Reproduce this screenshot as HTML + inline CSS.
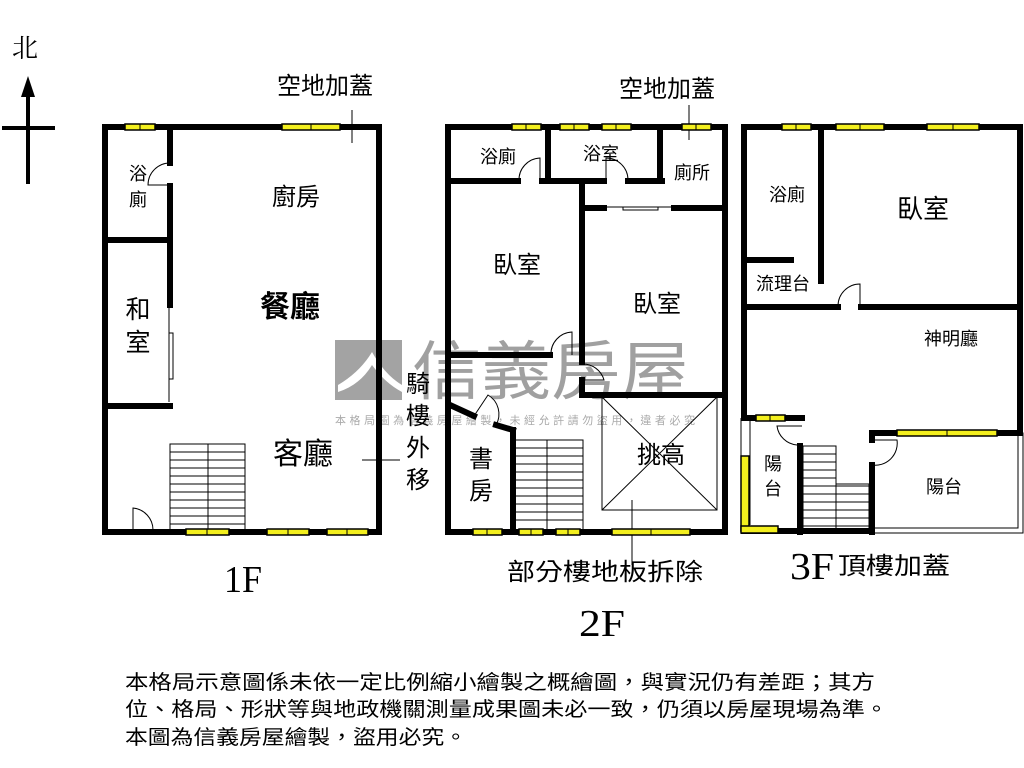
<!DOCTYPE html>
<html><head><meta charset="utf-8"><style>
html,body{margin:0;padding:0;background:#fff}
svg{display:block}
text{font-family:"Liberation Sans","Noto Sans CJK TC",sans-serif;fill:#000}
.s{font-family:"Liberation Serif","Noto Serif CJK SC",serif}
</style></head><body>
<svg width="1024" height="768" viewBox="0 0 1024 768" xmlns="http://www.w3.org/2000/svg">
<!-- watermark -->
<rect x="335" y="340" width="67" height="60" fill="#a3a3a3"/>
<path d="M338 385 Q360 372 372 352 Q385 375 402 385 L402 392 Q385 383 372 365 Q360 385 338 392Z" fill="#fff"/>
<text x="412" y="394" font-size="64" textLength="278" lengthAdjust="spacingAndGlyphs" style="fill:#a0a0a0">信義房屋</text>
<text x="335" y="424" font-size="11" textLength="360" lengthAdjust="spacing" style="fill:#aaa">本格局圖為信義房屋繪製，未經允許請勿盜用，違者必究</text>

<!-- north arrow -->
<text x="12" y="57" font-size="26" class="s">北</text>
<line x1="28" y1="90" x2="28" y2="184" stroke="#000" stroke-width="4"/>
<polygon points="28,76 21,97 35,97" fill="#000"/>
<line x1="2" y1="128" x2="55" y2="128" stroke="#000" stroke-width="4"/>

<g stroke="#000" stroke-width="6" fill="none" stroke-linecap="square">
<!-- 1F -->
<rect x="105" y="127" width="274" height="405"/>
<line x1="170" y1="127" x2="170" y2="163"/>
<line x1="170" y1="186" x2="170" y2="305"/>
<line x1="105" y1="240" x2="170" y2="240"/>
<line x1="105" y1="406" x2="170" y2="406"/>
<!-- 2F -->
<rect x="448" y="127" width="277" height="405"/>
<line x1="448" y1="181" x2="518" y2="181"/>
<line x1="542" y1="181" x2="604" y2="181"/>
<line x1="628" y1="181" x2="662" y2="181"/>
<line x1="548" y1="127" x2="548" y2="181"/>
<line x1="660" y1="127" x2="660" y2="181"/>
<line x1="582" y1="181" x2="582" y2="362"/>
<line x1="582" y1="380" x2="582" y2="395"/>
<line x1="582" y1="208" x2="604" y2="208"/>
<line x1="674" y1="208" x2="725" y2="208"/>
<line x1="448" y1="355" x2="550" y2="355"/>
<line x1="582" y1="395" x2="725" y2="395"/>
<line x1="450" y1="405" x2="474" y2="416"/>
<line x1="496" y1="425" x2="513" y2="430"/>
<line x1="513" y1="430" x2="513" y2="532"/>
<!-- 3F -->
<line x1="744" y1="127" x2="1020" y2="127"/>
<line x1="744" y1="127" x2="744" y2="418"/>
<line x1="1020" y1="127" x2="1020" y2="433"/>
<line x1="821" y1="127" x2="821" y2="281"/>
<line x1="744" y1="260" x2="791" y2="260"/>
<line x1="744" y1="307" x2="838" y2="307"/>
<line x1="861" y1="307" x2="1020" y2="307"/>
<line x1="744" y1="418" x2="802" y2="418"/>
<line x1="800" y1="446" x2="800" y2="532"/>
<line x1="872" y1="465" x2="872" y2="532"/>
<line x1="872" y1="433" x2="1020" y2="433"/>
<line x1="872" y1="433" x2="872" y2="440"/>
<line x1="744" y1="531" x2="872" y2="531"/>
</g>
<!-- 3F thin balcony lines -->
<g stroke="#000" stroke-width="1" fill="none">
<line x1="741" y1="418" x2="741" y2="533"/>
<line x1="750" y1="420" x2="750" y2="525"/>
<polyline points="872,528 1018,528 1018,433 1023,433 1023,533 872,533"/>
<!-- 1F sliding door -->
<line x1="169" y1="305" x2="169" y2="402"/>
<rect x="169" y="333" width="4" height="46" fill="#fff"/>
<!-- 2F sliding door -->
<line x1="604" y1="207" x2="674" y2="207"/>
<rect x="623" y="207" width="35" height="3" fill="#fff"/>
<!-- doors arcs -->
<path d="M170 163 A22 22 0 0 0 148 185 L170 185"/>
<path d="M133 532 L133 508 A22 22 0 0 1 153 530"/>
<path d="M540 181 L540 158 A22 22 0 0 0 519 181"/>
<path d="M606 181 L606 158 A22 22 0 0 1 628 180"/>
<path d="M572 355 L572 332 A22 22 0 0 0 551 355"/>
<path d="M582 364 A22 22 0 0 1 604 380 L582 380"/>
<path d="M474 416 L488 395 A22 22 0 0 1 496 425"/>
<path d="M860 307 L860 284 A22 22 0 0 0 838 306"/>
<path d="M802 426 L777 426 A22 22 0 0 0 797 445"/>
<path d="M872 440 L897 440 A22 22 0 0 1 872 465"/>
<!-- 挑高 -->
<rect x="602" y="397" width="115" height="113"/>
<line x1="602" y1="397" x2="717" y2="510"/>
<line x1="717" y1="397" x2="602" y2="510"/>
<!-- leader lines -->
<line x1="352" y1="110" x2="352" y2="143"/>
<line x1="362" y1="460" x2="400" y2="460"/>
<line x1="689" y1="105" x2="689" y2="140"/>
<line x1="632" y1="500" x2="632" y2="565"/>
</g>
<!-- stairs -->
<g stroke="#000" stroke-width="1" fill="none">
<rect x="170" y="444" width="75" height="88"/><line x1="208" y1="444" x2="208" y2="532"/>
<path d="M170 452h75M170 460h75M170 468h75M170 476h75M170 484h75M170 492h75M170 500h75M170 508h75M170 516h75M170 524h75"/>
<rect x="514" y="440" width="69" height="92"/><line x1="547" y1="440" x2="547" y2="532"/>
<path d="M514 448h69M514 456h69M514 464h69M514 472h69M514 480h69M514 488h69M514 496h69M514 504h69M514 512h69M514 520h69"/>
<rect x="803" y="446" width="33" height="84"/><rect x="836" y="484" width="33" height="46"/>
<path d="M803 454h33M803 462h33M803 470h33M803 478h33M803 486h66M803 494h66M803 502h66M803 510h66M803 518h66M803 526h66"/>
</g>
<!-- windows -->
<g fill="#f3ef1e" stroke="#000" stroke-width="1.5">
<rect x="125" y="124" width="30" height="6"/><rect x="282" y="124" width="58" height="6"/>
<rect x="186" y="529" width="43" height="6"/><rect x="267" y="529" width="42" height="6"/><rect x="327" y="529" width="41" height="6"/>
<rect x="512" y="124" width="29" height="6"/><rect x="560" y="124" width="29" height="6"/><rect x="602" y="124" width="29" height="6"/><rect x="682" y="124" width="29" height="6"/>
<rect x="473" y="529" width="29" height="6"/><rect x="519" y="529" width="24" height="6"/><rect x="556" y="529" width="24" height="6"/><rect x="612" y="529" width="78" height="6"/>
<rect x="782" y="124" width="29" height="6"/><rect x="836" y="124" width="48" height="6"/><rect x="927" y="124" width="52" height="6"/>
<rect x="756" y="415" width="29" height="6"/><rect x="897" y="430" width="100" height="6"/>
<rect x="741" y="456" width="8" height="75"/><rect x="741" y="526" width="37" height="7"/>
</g>
<g stroke="#000" stroke-width="1">
<path d="M140 124v6M311 124v6M207 529v6M288 529v6M347 529v6M526 124v6M574 124v6M616 124v6M696 124v6M487 529v6M531 529v6M568 529v6M651 529v6M796 124v6M860 124v6M953 124v6M770 415v6M947 430v6"/>
</g>

<!-- labels -->
<text x="138" y="180" font-size="18" text-anchor="middle">浴</text>
<text x="138" y="206" font-size="18" text-anchor="middle">廁</text>
<text x="296" y="205" font-size="24" text-anchor="middle">廚房</text>
<text x="290" y="317" font-size="30" text-anchor="middle" font-weight="bold">餐廳</text>
<text x="138" y="318" font-size="25" text-anchor="middle">和</text>
<text x="138" y="351" font-size="25" text-anchor="middle">室</text>
<text x="303" y="464" font-size="30" text-anchor="middle">客廳</text>
<text x="325" y="94" font-size="24" text-anchor="middle">空地加蓋</text>
<text x="418" y="392" font-size="24" text-anchor="middle">騎</text>
<text x="418" y="424" font-size="24" text-anchor="middle">樓</text>
<text x="418" y="456" font-size="24" text-anchor="middle">外</text>
<text x="418" y="520" font-size="24" text-anchor="middle" dy="-32">移</text>
<text x="418" y="520" font-size="24" text-anchor="middle" style="fill:none">.</text>
<text x="243" y="592" font-size="38" text-anchor="middle" class="s" textLength="38" lengthAdjust="spacingAndGlyphs">1F</text>

<text x="498" y="163" font-size="18" text-anchor="middle">浴廁</text>
<text x="601" y="160" font-size="18" text-anchor="middle">浴室</text>
<text x="692" y="179" font-size="18" text-anchor="middle">廁所</text>
<text x="517" y="273" font-size="24" text-anchor="middle">臥室</text>
<text x="657" y="312" font-size="24" text-anchor="middle">臥室</text>
<text x="481" y="467" font-size="24" text-anchor="middle">書</text>
<text x="481" y="499" font-size="24" text-anchor="middle">房</text>
<text x="661" y="463" font-size="24" text-anchor="middle">挑高</text>
<text x="667" y="97" font-size="24" text-anchor="middle">空地加蓋</text>
<text x="605" y="580" font-size="24" text-anchor="middle" textLength="196" lengthAdjust="spacingAndGlyphs">部分樓地板拆除</text>
<text x="602" y="636" font-size="38" text-anchor="middle" class="s" textLength="46" lengthAdjust="spacingAndGlyphs">2F</text>

<text x="787" y="201" font-size="18" text-anchor="middle">浴廁</text>
<text x="923" y="218" font-size="26" text-anchor="middle">臥室</text>
<text x="783" y="290" font-size="18" text-anchor="middle">流理台</text>
<text x="951" y="345" font-size="18" text-anchor="middle">神明廳</text>
<text x="773" y="470" font-size="18" text-anchor="middle">陽</text>
<text x="773" y="495" font-size="18" text-anchor="middle">台</text>
<text x="944" y="493" font-size="18" text-anchor="middle">陽台</text>
<text x="790" y="579" font-size="38" class="s" textLength="44" lengthAdjust="spacingAndGlyphs">3F</text>
<text x="838" y="574" font-size="24" textLength="112" lengthAdjust="spacingAndGlyphs">頂樓加蓋</text>

<text x="125" y="689" font-size="20" textLength="750" lengthAdjust="spacingAndGlyphs">本格局示意圖係未依一定比例縮小繪製之概繪圖，與實況仍有差距；其方</text>
<text x="125" y="716" font-size="20" textLength="763" lengthAdjust="spacingAndGlyphs">位、格局、形狀等與地政機關測量成果圖未必一致，仍須以房屋現場為準。</text>
<text x="125" y="744" font-size="20" textLength="342" lengthAdjust="spacingAndGlyphs">本圖為信義房屋繪製，盜用必究。</text>
</svg>
</body></html>
